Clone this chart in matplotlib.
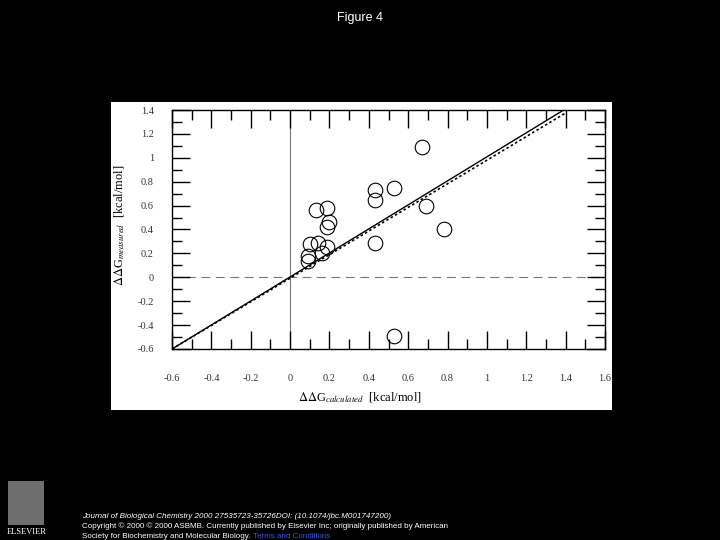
import matplotlib
matplotlib.use("Agg")
import matplotlib.pyplot as plt
import numpy as np
from matplotlib.patches import Rectangle
from matplotlib.ticker import MultipleLocator

plt.rcParams['mathtext.fontset'] = 'stix'

# measured points
calc = [0.13, 0.19, 0.19, 0.20, 0.10, 0.14, 0.19, 0.09, 0.16, 0.09,
        0.43, 0.43, 0.43, 0.53, 0.67, 0.69, 0.78, 0.53]
meas = [0.56, 0.58, 0.42, 0.46, 0.28, 0.29, 0.25, 0.18, 0.20, 0.14,
        0.29, 0.65, 0.73, 0.75, 1.09, 0.60, 0.40, -0.49]

# two fitted lines (solid and dotted)
fit_x = [-0.6, 1.39]
fit_solid = [-0.6, 1.40]
fit_dotted_x = [-0.6, 1.40]
fit_dotted = [-0.6, 1.375]

xticks = [-0.6, -0.4, -0.2, 0, 0.2, 0.4, 0.6, 0.8, 1, 1.2, 1.4, 1.6]
yticks = [-0.6, -0.4, -0.2, 0, 0.2, 0.4, 0.6, 0.8, 1, 1.2, 1.4]

fig = plt.figure(figsize=(7.2, 5.4), dpi=100, facecolor='black')

# white panel behind the graph
fig.patches.append(Rectangle((111 / 720, 1 - 410 / 540), 501 / 720, 308 / 540,
                             transform=fig.transFigure, facecolor='white',
                             edgecolor='none', zorder=-5))

ax = fig.add_axes([172 / 720, 1 - 349 / 540, 433 / 720, 239 / 540], zorder=2)
ax.set_facecolor('white')
ax.set_xlim(-0.6, 1.6)
ax.set_ylim(-0.6, 1.4)

ax.axvline(0, color='#777777', lw=0.8, zorder=1)
ax.axhline(0, color='#777777', lw=0.8, ls=(0, (8, 5)), zorder=1)

ax.plot(fit_x, fit_solid, color='black', lw=1.0, zorder=2)
ax.plot(fit_dotted_x, fit_dotted, color='black', lw=1.2, ls=(0, (1.5, 1.5)), zorder=2)

ax.plot(calc, meas, 'o', mfc='none', mec='black', mew=0.8, ms=10.5, zorder=3)

ax.set_xticks(xticks)
ax.set_yticks(yticks)
ax.set_xticklabels(['-0.6', '-0.4', '-0.2', '0', '0.2', '0.4', '0.6', '0.8', '1', '1.2', '1.4', '1.6'])
ax.set_yticklabels(['-0.6', '-0.4', '-0.2', '0', '0.2', '0.4', '0.6', '0.8', '1', '1.2', '1.4'])
ax.xaxis.set_minor_locator(MultipleLocator(0.1))
ax.yaxis.set_minor_locator(MultipleLocator(0.1))
ax.tick_params(which='both', direction='in', top=True, right=True, width=1, color='black')
ax.tick_params(which='major', length=13)
ax.tick_params(which='minor', length=7)
ax.tick_params(axis='x', which='major', pad=18, labelsize=7.5)
ax.tick_params(axis='y', which='major', pad=13, labelsize=7.5)
for lab in ax.get_xticklabels() + ax.get_yticklabels():
    lab.set_family('Liberation Serif')
    lab.set_color('#333333')
for s in ax.spines.values():
    s.set_linewidth(1)

ax.set_xlabel(r'$\Delta\Delta$G$_{calculated}$  [kcal/mol]', family='Liberation Serif',
              fontsize=9)
ax.set_ylabel(r'$\Delta\Delta$G$_{measured}$  [kcal/mol]', family='Liberation Serif',
              fontsize=9)
ax.xaxis.set_label_coords((360 - 172) / 433, -(398 - 349) / 239)
ax.yaxis.set_label_coords(-(172 - 120) / 433, (349 - 225) / 239)
ax.xaxis.label.set_va('center')
ax.yaxis.label.set_va('center')

fig.text(0.5, 1 - 18 / 540, 'Figure 4', color='white', ha='center', va='center',
         fontsize=9, family='Liberation Sans')

# footer
fig.patches.append(Rectangle((8 / 720, 1 - 525 / 540), 36 / 720, 44 / 540,
                             transform=fig.transFigure, facecolor='#8a8a8a',
                             edgecolor='none', alpha=0.8))
fig.text(27 / 720, 1 - 532 / 540, 'ELSEVIER', color='white', ha='center', va='center',
         fontsize=6, family='Liberation Serif')
foot = dict(color='white', fontsize=5.8, family='Liberation Sans', va='center', ha='left')
fig.text(82 / 720, 1 - 517 / 540,
         'Journal of Biological Chemistry 2000 27535723-35726DOI: (10.1074/jbc.M001747200)',
         style='italic', **foot)
fig.text(82 / 720, 1 - 526 / 540,
         'Copyright © 2000 © 2000 ASBMB. Currently published by Elsevier Inc; originally published by American',
         **foot)
t = fig.text(82 / 720, 1 - 536 / 540, 'Society for Biochemistry and Molecular Biology.', **foot)
fig.canvas.draw()
bb = t.get_window_extent()
fig.text(bb.x1 / 720 + 3 / 720, 1 - 536 / 540, 'Terms and Conditions', color='#3355ff',
         fontsize=5.8, family='Liberation Sans', va='center', ha='left')

fig.savefig('out.png', dpi=100, facecolor='black')
